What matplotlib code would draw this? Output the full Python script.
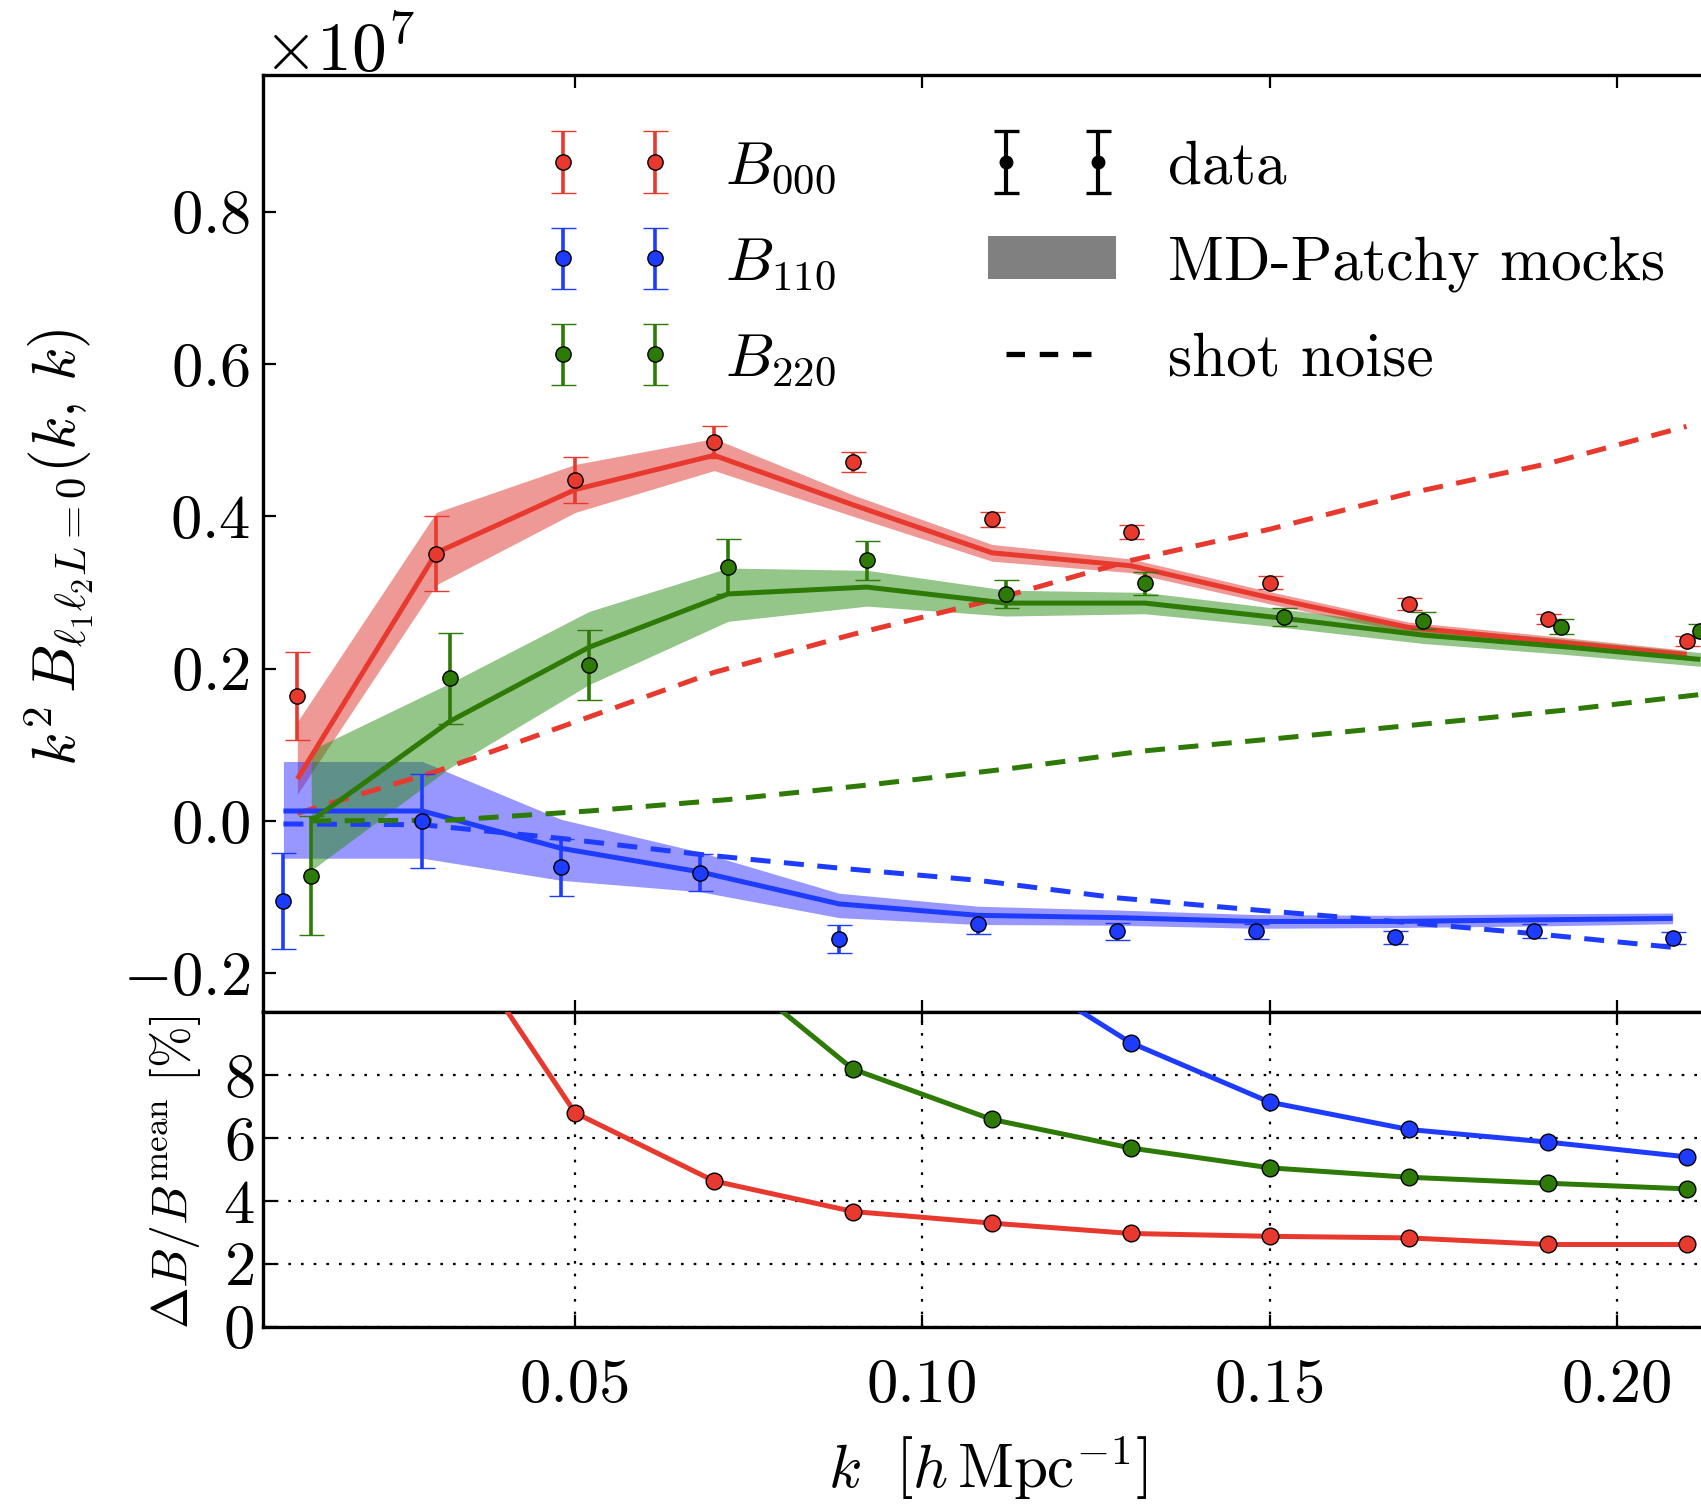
import numpy as np
import matplotlib
matplotlib.use('Agg')
import matplotlib.pyplot as plt
from matplotlib.lines import Line2D
from matplotlib.patches import Patch
from matplotlib.ticker import ScalarFormatter, FixedLocator

plt.rcParams.update({
    'font.family': 'serif',
    'font.serif': ['cmr10'],
    'mathtext.fontset': 'cm',
    'axes.formatter.use_mathtext': True,
    'axes.unicode_minus': True,
})

SCALE = 1e7

# ---------------- data (top panel, units of 1e7) ----------------
k_red = [0.010, 0.030, 0.050, 0.070, 0.090, 0.110, 0.130, 0.150, 0.170, 0.190, 0.210]
k_blue = [0.008, 0.028, 0.048, 0.068, 0.088, 0.108, 0.128, 0.148, 0.168, 0.188, 0.208]
k_green = [0.012, 0.032, 0.052, 0.072, 0.092, 0.112, 0.132, 0.152, 0.172, 0.192, 0.212]

red_data = [0.164, 0.351, 0.448, 0.497, 0.471, 0.396, 0.379, 0.313, 0.285, 0.265, 0.236]
red_err = [0.058, 0.049, 0.030, 0.021, 0.013, 0.010, 0.009, 0.008, 0.008, 0.007, 0.007]
blue_data = [-0.105, 0.000, -0.061, -0.068, -0.155, -0.136, -0.145, -0.145, -0.153, -0.145, -0.154]
blue_err = [0.063, 0.062, 0.037, 0.024, 0.018, 0.013, 0.011, 0.010, 0.009, 0.009, 0.008]
green_data = [-0.072, 0.187, 0.205, 0.334, 0.342, 0.298, 0.312, 0.268, 0.263, 0.255, 0.249]
green_err = [0.078, 0.060, 0.046, 0.036, 0.026, 0.018, 0.015, 0.012, 0.011, 0.010, 0.009]

# MD-Patchy mocks: mean and band edges
red_mock = [0.055, 0.352, 0.435, 0.480, 0.415, 0.352, 0.335, 0.293, 0.254, 0.236, 0.218]
red_lo = [0.035, 0.310, 0.405, 0.460, 0.400, 0.341, 0.326, 0.285, 0.247, 0.229, 0.212]
red_hi = [0.130, 0.405, 0.468, 0.502, 0.428, 0.363, 0.344, 0.301, 0.261, 0.243, 0.224]
blue_mock = [0.013, 0.013, -0.036, -0.067, -0.109, -0.124, -0.127, -0.132, -0.132, -0.130, -0.128]
blue_lo = [-0.049, -0.049, -0.078, -0.093, -0.127, -0.136, -0.137, -0.141, -0.140, -0.138, -0.135]
blue_hi = [0.078, 0.078, 0.002, -0.041, -0.095, -0.112, -0.117, -0.123, -0.124, -0.122, -0.121]
green_mock = [0.000, 0.131, 0.228, 0.298, 0.307, 0.286, 0.286, 0.266, 0.244, 0.229, 0.212]
green_lo = [-0.065, 0.070, 0.179, 0.262, 0.282, 0.269, 0.272, 0.254, 0.233, 0.219, 0.203]
green_hi = [0.093, 0.181, 0.275, 0.332, 0.329, 0.303, 0.300, 0.278, 0.255, 0.239, 0.221]

# shot noise
red_shot = [0.010, 0.065, 0.130, 0.195, 0.245, 0.290, 0.342, 0.383, 0.430, 0.469, 0.518]
blue_shot = [-0.004, -0.005, -0.023, -0.044, -0.062, -0.078, -0.101, -0.117, -0.132, -0.148, -0.166]
green_shot = [0.000, 0.001, 0.013, 0.028, 0.047, 0.068, 0.092, 0.109, 0.127, 0.145, 0.166]

# ---------------- bottom panel (percent) ----------------
k_pct = [0.010, 0.030, 0.050, 0.070, 0.090, 0.110, 0.130, 0.150, 0.170, 0.190, 0.210]
red_pct = [np.nan, 13.4, 6.80, 4.63, 3.66, 3.29, 2.96, 2.87, 2.82, 2.61, 2.61]
green_pct = [np.nan, np.nan, np.nan, 11.8, 8.19, 6.59, 5.68, 5.05, 4.75, 4.56, 4.38]
blue_pct = [np.nan, np.nan, np.nan, np.nan, np.nan, 11.8, 9.03, 7.14, 6.27, 5.87, 5.40]

xticks = [0.05, 0.10, 0.15, 0.20]
xticklabels = ['0.05', '0.10', '0.15', '0.20']
yticks_top = [-0.2, 0.0, 0.2, 0.4, 0.6, 0.8]
yticks_bot = [0, 2, 4, 6, 8]

RED = '#E8392F'
BLUE = '#1E3CFF'
GREEN = '#2E7A06'
RED_BAND = '#E0352F'
BLUE_BAND = '#3030FF'
GREEN_BAND = '#2A8C14'

W, H = 1701, 1505
fig = plt.figure(figsize=(W / 100, H / 100), dpi=100)

left = 262.6 / W
width = 1465.6 / W
top_y0 = 1 - 1012.3 / H
top_y1 = 1 - 74.9 / H
bot_y0 = 1 - 1326.5 / H

ax = fig.add_axes([left, top_y0, width, top_y1 - top_y0])
axb = fig.add_axes([left, bot_y0, width, top_y0 - bot_y0], sharex=ax)

dash = (0, (4, 2.7))
series = [
    (k_red, red_data, red_err, red_mock, red_lo, red_hi, red_shot, RED, RED_BAND, r'$B_{000}$'),
    (k_blue, blue_data, blue_err, blue_mock, blue_lo, blue_hi, blue_shot, BLUE, BLUE_BAND, r'$B_{110}$'),
    (k_green, green_data, green_err, green_mock, green_lo, green_hi, green_shot, GREEN, GREEN_BAND, r'$B_{220}$'),
]
handles = []
for (k, d, e, m, lo, hi, sn, col, bcol, lab) in series:
    k = np.array(k)
    ax.fill_between(k, np.array(lo) * SCALE, np.array(hi) * SCALE, color=bcol, alpha=0.5, lw=0, zorder=1)
for (k, d, e, m, lo, hi, sn, col, bcol, lab) in series:
    k = np.array(k)
    ax.plot(k, np.array(m) * SCALE, color=col, lw=3.6, zorder=2, solid_capstyle='butt')
    ax.plot(k, np.array(sn) * SCALE, color=col, lw=3.6, ls=dash, zorder=2)
for (k, d, e, m, lo, hi, sn, col, bcol, lab) in series:
    k = np.array(k)
    h = ax.errorbar(k, np.array(d) * SCALE, yerr=np.array(e) * SCALE, fmt='o', color=col,
                    mec='k', mew=1.0, ms=11, elinewidth=2.6, capsize=9, capthick=2.2,
                    zorder=4, label=lab)
    handles.append(h)

# proxy handles for legend second column
hd = ax.errorbar([np.nan], [np.nan], yerr=[np.nan], fmt='o', color='k', ms=9,
                 elinewidth=3.0, capsize=9, capthick=2.4, label='data')
handles.append(hd)
handles.append(Patch(facecolor='#808080', edgecolor='none', label='MD-Patchy mocks'))
handles.append(Line2D([], [], color='k', lw=3.8, ls=(0, (3.5, 2.8)), label='shot noise'))

leg = ax.legend(handles=handles, ncol=2, numpoints=2, frameon=False, fontsize=44,
                loc='upper left', bbox_to_anchor=(545 / W, 1 - 140 / H),
                bbox_transform=fig.transFigure, borderpad=0, borderaxespad=0,
                handlelength=2.1, handletextpad=0.85, columnspacing=2.48, labelspacing=0.66)

ax.set_xlim(0.005, 0.216)
ax.set_ylim(-0.2513 * SCALE, 0.9795 * SCALE)
ax.yaxis.set_major_locator(FixedLocator([v * SCALE for v in yticks_top]))
fmt = ScalarFormatter(useMathText=True)
fmt.set_powerlimits((7, 7))
ax.yaxis.set_major_formatter(fmt)
ax.yaxis.get_offset_text().set_fontsize(50)
ax.tick_params(axis='both', direction='in', top=True, bottom=True, left=True, right=False,
               length=9, width=1.6, labelsize=45, pad=9, labelbottom=False)
ax.spines['right'].set_visible(False)

# bottom panel
for kk, vals, col in [(k_pct, red_pct, RED), (k_pct, green_pct, GREEN), (k_pct, blue_pct, BLUE)]:
    axb.plot(kk, vals, color=col, lw=3.6, marker='o', ms=12, mec='k', mew=1.0, zorder=3)
axb.set_ylim(0, 10)
axb.set_yticks(yticks_bot)
axb.set_xticks(xticks)
axb.set_xticklabels(xticklabels)
axb.grid(True, color='k', ls=(0, (1.2, 4.5)), lw=1.6)
axb.tick_params(axis='both', direction='in', top=True, bottom=True, left=True, right=False,
                length=9, width=1.6, labelsize=45)
axb.tick_params(axis='y', pad=6)
axb.tick_params(axis='x', pad=23)
axb.spines['right'].set_visible(False)
axb.set_xlim(0.005, 0.216)

for a in (ax, axb):
    for s in ('left', 'top', 'bottom'):
        a.spines[s].set_linewidth(2.4)

fig.text(59 / W, 1 - 548 / H, r'$k^2\,B_{\ell_1\ell_2L=0}(k,\,k)$', rotation=90,
         ha='center', va='center', fontsize=44)
fig.text(175 / W, 1 - 1172 / H, r'$\Delta B/B^{\rm mean}\ [\%]$', rotation=90,
         ha='center', va='center', fontsize=36)
fig.text(988 / W, 1 - 1468 / H, r'$k\ \ \left[h\,\mathrm{Mpc}^{-1}\right]$',
         ha='center', va='center', fontsize=44)

fig.savefig('out.png', dpi=100)
